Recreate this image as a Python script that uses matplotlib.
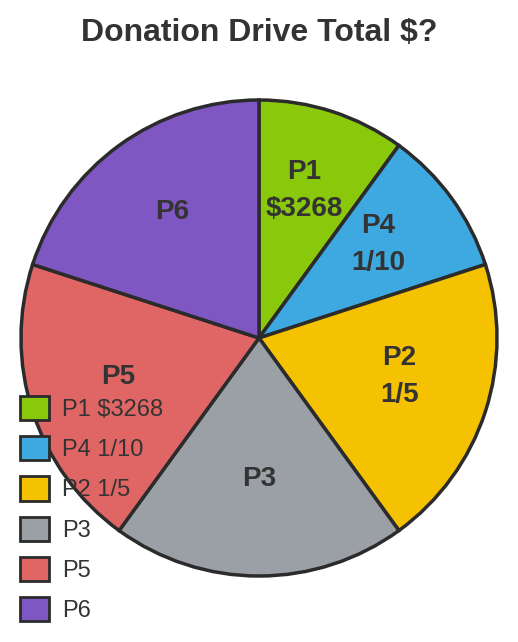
import numpy as np
import matplotlib.pyplot as plt
from matplotlib.patches import Patch

plt.rcParams['font.family'] = ['Liberation Sans', 'DejaVu Sans']

# Данные
names = ['P1', 'P4', 'P2', 'P3', 'P5', 'P6']
slice_text = [['P1', '$3268'], ['P4', '1/10'], ['P2', '1/5'], ['P3'], ['P5'], ['P6']]
legend_text = ['P1 $3268', 'P4 1/10', 'P2 1/5', 'P3', 'P5', 'P6']
shares = [10, 10, 20, 20, 20, 20]
colors = ['#89C80A', '#3EA8E0', '#F4C200', '#9BA0A6', '#E06666', '#7E57C2']
edge = '#2b2b2b'
txt = '#333333'

W, H = 518, 642
fig = plt.figure(figsize=(W / 100, H / 100), dpi=100)
ax = fig.add_axes([0, 0, 1, 1])

cx, cy, r = 259, H - 338, 238
wedges, _ = ax.pie(shares, colors=colors, startangle=90, counterclock=False,
                   center=(cx, cy), radius=r, frame=True,
                   wedgeprops=dict(edgecolor=edge, linewidth=2.5))
ax.set_xlim(0, W)
ax.set_ylim(0, H)
ax.set_aspect('equal')
ax.axis('off')

# Подписи внутри секторов (базовая линия в точке на 0.62 радиуса)
step = 37  # расстояние между строками, px
for w, lines in zip(wedges, slice_text):
    ang = np.deg2rad((w.theta1 + w.theta2) / 2)
    x = cx + 0.62 * r * np.cos(ang)
    y = cy + 0.62 * r * np.sin(ang)
    y0 = y + step * (len(lines) - 1) / 2
    for i, s in enumerate(lines):
        ax.text(x, y0 - i * step, s, ha='center', va='baseline', fontsize=20,
                fontweight='bold', color=txt)

fig.text(0.5, 1 - 33 / H, 'Donation Drive Total $?', ha='center', va='center',
         fontsize=23, fontweight='bold', color=txt)

handles = [Patch(facecolor=c, edgecolor=edge, linewidth=2) for c in colors]
leg = fig.legend(handles, legend_text, loc='upper left',
                 bbox_to_anchor=(20 / W, 1 - 396 / H), frameon=False,
                 fontsize=17, handlelength=1.23, handleheight=1.2,
                 handletextpad=0.55, labelspacing=0.64, borderpad=0,
                 borderaxespad=0)
for t in leg.get_texts():
    t.set_color(txt)

fig.savefig('out.png', dpi=100)
